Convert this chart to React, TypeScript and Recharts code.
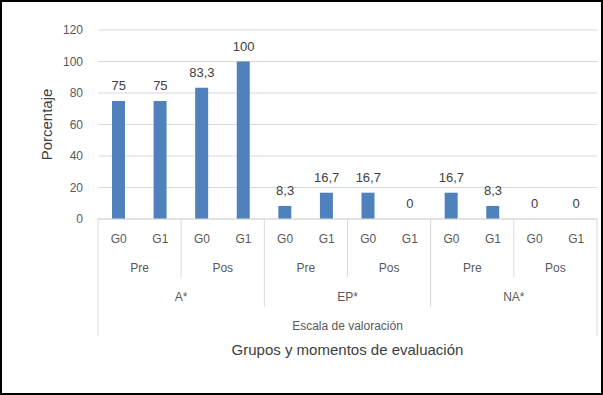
import React from 'react';
import { ComposedChart, Bar, Line, XAxis, YAxis, CartesianGrid, LabelList } from 'recharts';

const scales = ['A*', 'EP*', 'NA*'];
const moments = ['Pre', 'Pos'];
const groups = ['G0', 'G1'];
const values = [75, 75, 83.3, 100, 8.3, 16.7, 16.7, 0, 16.7, 8.3, 0, 0];
const yTicks = [0, 20, 40, 60, 80, 100, 120];
const scaleTitle = 'Escala de valoración';
const axisTitle = 'Grupos y momentos de evaluación';
const yTitle = 'Porcentaje';

const data: { key: string; scale: string; moment: string; group: string; value: number }[] = [];
{
  let k = 0;
  for (const s of scales) {
    for (const m of moments) {
      for (const g of groups) {
        data.push({ key: `${s}-${m}-${g}`, scale: s, moment: m, group: g, value: values[k] });
        k++;
      }
    }
  }
}

const TEXT = '#595959';
const LINE = '#D9D9D9';

const CategoryTick = (props: any) => {
  const { x, y, payload } = props;
  const i: number = payload.index ?? props.index ?? 0;
  const row = data[i];
  const half: number = payload.offset ?? 499 / 24;
  const bw = half * 2;
  const left = x - half;
  const els: React.ReactNode[] = [];
  els.push(
    <text key="g" x={x} y={y + 20} dy="0.35em" textAnchor="middle" fill={TEXT} fontSize={12}>
      {row.group}
    </text>
  );
  if (i % 2 === 0) {
    els.push(
      <text key="m" x={left + bw} y={y + 48.7} dy="0.35em" textAnchor="middle" fill={TEXT} fontSize={12}>
        {row.moment}
      </text>
    );
    if (i % 4 !== 0) {
      els.push(<line key="lm" x1={left} x2={left} y1={y} y2={y + 58} stroke={LINE} />);
    }
  }
  if (i % 4 === 0) {
    els.push(
      <text key="s" x={left + 2 * bw} y={y + 77.7} dy="0.35em" textAnchor="middle" fill={TEXT} fontSize={12}>
        {row.scale}
      </text>
    );
    if (i !== 0) {
      els.push(<line key="ls" x1={left} x2={left} y1={y} y2={y + 88} stroke={LINE} />);
    }
  }
  if (i === 0) {
    els.push(<line key="l0" x1={left} x2={left} y1={y} y2={y + 117} stroke={LINE} />);
    els.push(
      <text key="esc" x={left + 6 * bw} y={y + 106.7} dy="0.35em" textAnchor="middle" fill={TEXT} fontSize={12}>
        {scaleTitle}
      </text>
    );
    els.push(
      <text key="tit" x={left + 6 * bw} y={y + 130.3} dy="0.35em" textAnchor="middle" fill="#404040" fontSize={15}>
        {axisTitle}
      </text>
    );
  }
  if (i === data.length - 1) {
    els.push(<line key="le" x1={left + bw} x2={left + bw} y1={y} y2={y + 117} stroke={LINE} />);
  }
  return <g>{els}</g>;
};

const YTitle = (props: any) => {
  const vb = props.viewBox || { x: 0, y: 30, width: 98, height: 189 };
  const cx = vb.x + 47;
  const cy = vb.y + vb.height / 2;
  return (
    <text x={cx} y={cy} dy="0.35em" textAnchor="middle" fill="#404040" fontSize={15} transform={`rotate(-90 ${cx} ${cy})`}>
      {yTitle}
    </text>
  );
};

export default function App() {
  return (
    <div
      style={{
        position: 'absolute',
        left: 0,
        top: 0,
        width: 603,
        height: 395,
        background: '#fff',
        fontFamily: '"Liberation Sans", Arial, sans-serif',
      }}
    >
      <div style={{ position: 'absolute', left: 0, top: 0 }}>
        <ComposedChart width={603} height={395} data={data} margin={{ top: 30, right: 6, bottom: 0, left: 0 }}>
          <CartesianGrid vertical={false} stroke={LINE} />
          <XAxis
            dataKey="key"
            height={176}
            interval={0}
            tickSize={0}
            tickMargin={0}
            tickLine={false}
            axisLine={{ stroke: LINE }}
            tick={<CategoryTick />}
          />
          <YAxis
            width={98}
            domain={[0, 120]}
            ticks={yTicks}
            axisLine={false}
            tickLine={false}
            tickSize={0}
            tickMargin={15}
            tick={{ fill: TEXT, fontSize: 12 }}
            label={<YTitle />}
          />
          <Bar dataKey="value" fill="#4F81BD" barSize={13} isAnimationActive={false} />
          <Line
            dataKey="value"
            stroke="none"
            dot={false}
            activeDot={false}
            isAnimationActive={false}
            legendType="none"
          >
            <LabelList
              dataKey="value"
              position="top"
              offset={11}
              fill="#404040"
              fontSize={13}
              formatter={(v: any) => String(v).replace('.', ',')}
            />
          </Line>
        </ComposedChart>
      </div>
      <div
        style={{
          position: 'absolute',
          left: 0,
          top: 0,
          width: 603,
          height: 395,
          border: '2px solid #000',
          boxSizing: 'border-box',
          pointerEvents: 'none',
        }}
      />
    </div>
  );
}
